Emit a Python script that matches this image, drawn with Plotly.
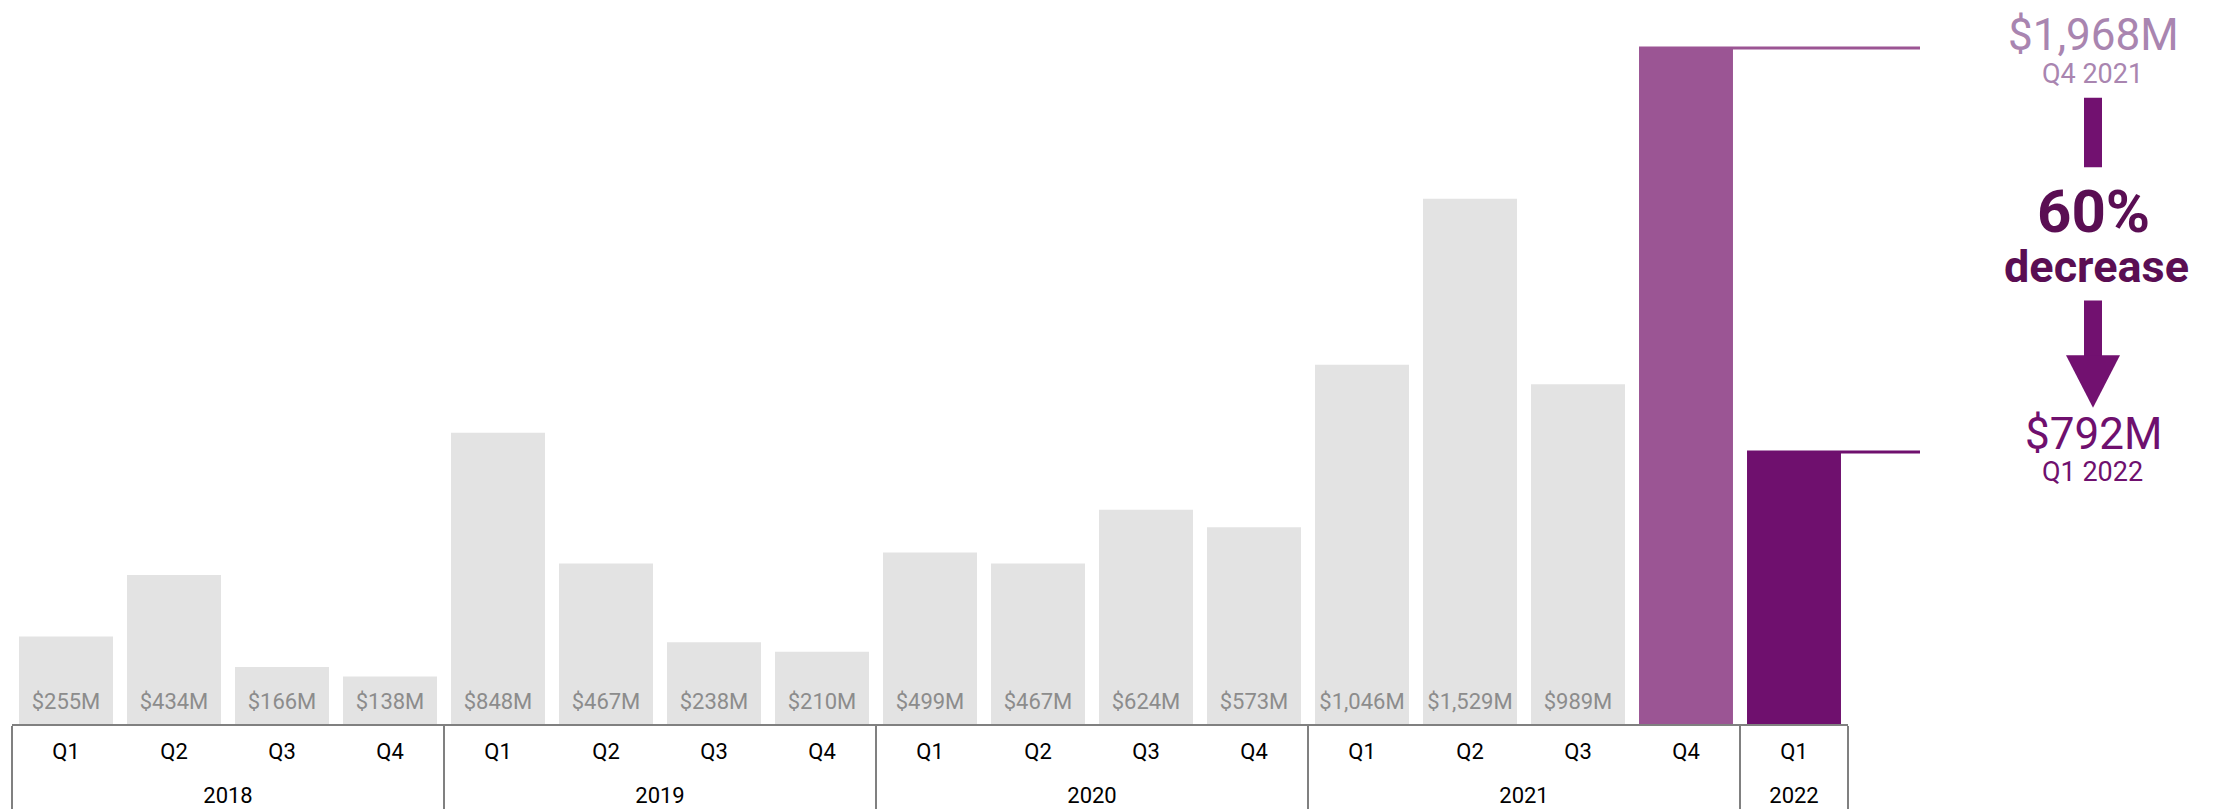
import plotly.graph_objects as go

# ---- data ----
years = ["2018"] * 4 + ["2019"] * 4 + ["2020"] * 4 + ["2021"] * 4 + ["2022"]
quarters = ["Q1", "Q2", "Q3", "Q4"] * 4 + ["Q1"]
values = [255, 434, 166, 138, 848, 467, 238, 210, 499, 467, 624, 573,
          1046, 1529, 989, 1968, 792]
value_labels = ["$255M", "$434M", "$166M", "$138M", "$848M", "$467M", "$238M", "$210M",
                "$499M", "$467M", "$624M", "$573M", "$1,046M", "$1,529M", "$989M", "", ""]
bar_colors = ["#e3e3e3"] * 15 + ["#9b5594", "#6f106e"]

# ---- geometry (page pixels; the page body adds an 8px offset) ----
OFF = 8
W, H = 2213, 811
FW, FH = W - OFF, H - OFF
L = 12 - OFF
plot_w = 17 * 108
R = FW - L - plot_w
base_page = 728
T = 40 - OFF
B = FH - (base_page - OFF)
plot_h = FH - T - B
px_per_unit = 680 / 1968.0
ymax = plot_h / px_per_unit
bargap = 0.13
n = len(values)


def px(x):
    return (x - OFF - L) / plot_w


def py(y):
    return (base_page - y) / plot_h


# spacer line appended to first-level labels to push the year row down
spacer = "<br><span style='font-size:2px'>&nbsp;</span>"
quarter_ticks = [q + spacer for q in quarters]
x_multi = [years, quarter_ticks]

fig = go.Figure()
fig.add_trace(go.Bar(
    x=x_multi,
    y=values,
    marker=dict(color=bar_colors, line=dict(width=0)),
    hoverinfo="skip",
))
fig.add_trace(go.Scatter(
    x=x_multi,
    y=[0] * n,
    mode="markers+text",
    text=value_labels,
    textposition="top center",
    textfont=dict(family="Roboto", size=22, color="#8c8c8c"),
    marker=dict(size=13, color="rgba(0,0,0,0)"),
    hoverinfo="skip",
    cliponaxis=False,
))

shapes = []
i_hi, i_lo = 15, 16
line_end = px(1920)
for idx, col in ((i_hi, "#9b5594"), (i_lo, "#6f106e")):
    x0 = (idx + 0.5 - (1 - bargap) / 2) / n
    shapes.append(dict(type="line", xref="paper", yref="y", x0=x0, x1=line_end,
                       y0=values[idx], y1=values[idx], line=dict(color=col, width=3)))

arrow_col = "#721170"
shapes.append(dict(type="rect", xref="paper", yref="paper",
                   x0=px(2084), x1=px(2102), y0=py(98), y1=py(168),
                   fillcolor=arrow_col, line=dict(width=0)))
shapes.append(dict(type="rect", xref="paper", yref="paper",
                   x0=px(2084), x1=px(2102), y0=py(302), y1=py(358),
                   fillcolor=arrow_col, line=dict(width=0)))
shapes.append(dict(type="path", xref="paper", yref="paper",
                   path="M {} {} L {} {} L {} {} Z".format(px(2066), py(357), px(2120), py(357), px(2093), py(410)),
                   fillcolor=arrow_col, line=dict(width=0)))

ann = []


def add_text(txt, x, y, size, color, bold=False):
    ann.append(dict(text=("<b>%s</b>" % txt) if bold else txt, xref="paper", yref="paper",
                    x=px(x), y=py(y), xanchor="center", yanchor="middle", showarrow=False,
                    font=dict(family="Roboto", size=size, color=color)))


top_col = "#a985b0"
add_text("$1,968M", 2093, 35, 44, top_col)
add_text("Q4 2021", 2092, 74, 27, top_col)
add_text("60%", 2093, 212, 60, "#5a0e53", bold=True)
add_text("decrease", 2096, 268, 45, "#5a0e53", bold=True)
add_text("$792M", 2093, 436, 44, "#6f106e")
add_text("Q1 2022", 2092, 475, 27, "#6f106e")

fig.update_layout(
    width=FW, height=FH,
    margin=dict(l=L, r=R, t=T, b=B, pad=0),
    paper_bgcolor="white", plot_bgcolor="white",
    bargap=bargap,
    showlegend=False,
    shapes=shapes,
    annotations=ann,
    font=dict(family="Roboto", size=22, color="#000000"),
    xaxis=dict(
        type="multicategory",
        range=[-0.5, n - 0.5],
        showline=True, linecolor="#808080", linewidth=2,
        showdividers=True, dividercolor="#808080", dividerwidth=2,
        ticks="", ticklabelstandoff=7,
        showgrid=False, zeroline=False,
        tickfont=dict(family="Roboto", size=22, color="#000000"),
    ),
    yaxis=dict(range=[0, ymax], visible=False, showgrid=False, zeroline=False),
)

fig.write_html("out.html")
